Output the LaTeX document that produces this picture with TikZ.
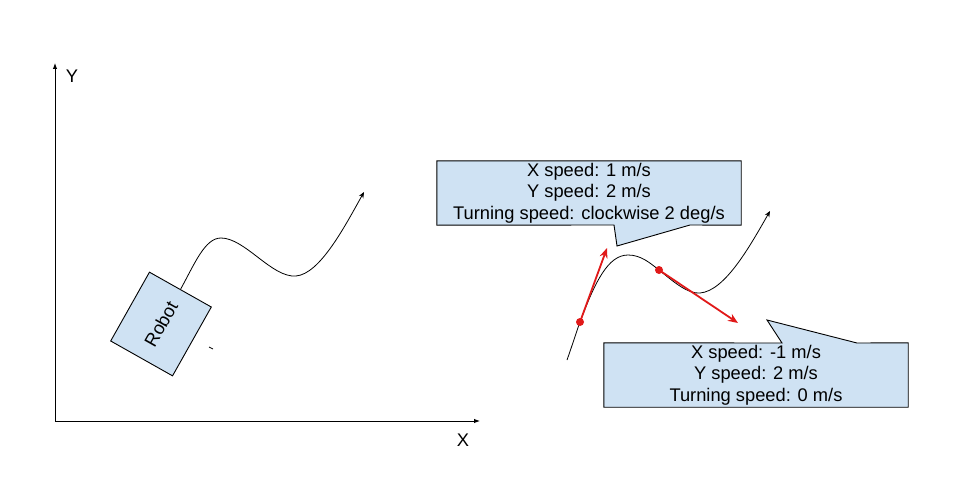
\documentclass[tikz,border=0pt]{standalone}
\usepackage{fontspec}
\setmainfont{Liberation Sans}
\usetikzlibrary{arrows.meta}
\definecolor{boxblue}{HTML}{CFE2F3}
\definecolor{vred}{RGB}{225,25,25}
\tikzset{
  txt/.style={font=\fontsize{18.3}{21.5}\selectfont, inner sep=0pt, align=center},
  thin line/.style={draw=black, line width=0.9pt},
  callout/.style={fill=boxblue, draw=black, line width=0.9pt, line join=miter},
  axis/.style={draw=black, line width=1pt, -{Latex[length=6pt,width=4.5pt]}},
  path arrow/.style={draw=black, line width=0.8pt, -{Stealth[length=6pt,width=5pt]}},
  vel/.style={draw=vred, line width=1.8pt, -{Stealth[length=10pt,width=8pt]}},
  dot/.style={circle, fill=vred, inner sep=0pt, minimum size=8pt}
}
\begin{document}
\begin{tikzpicture}[x=1pt, y=-1pt]
\useasboundingbox (0,0) rectangle (960,476);
\fill[white] (0,0) rectangle (960,476);

% axes
\coordinate (O) at (55,421);
\coordinate (ytop) at (55,63);
\coordinate (xend) at (480,421);
\draw[axis] (O) -- (ytop);
\draw[axis] (O) -- (xend);
\node[txt] (ylab) at (72,76) {Y};
\node[txt] (xlab) at (463,440) {X};

% robot
\node[txt, draw=black, line width=0.9pt, fill=boxblue, rotate=60.6,
      minimum width=79pt, minimum height=71pt] (robot) at (161,324) {Robot};
\coordinate (m1) at (209,347);
\coordinate (m2) at (213,349);
\draw[line width=0.8pt] (m1) -- (m2);

% left path
\coordinate (lp) at (221,238);
\coordinate (lt) at (296,276);
\coordinate (lend) at (364,192);
\draw[path arrow] (robot.east) .. controls (195,263) and (205,238) .. (lp)
  .. controls (245,238) and (272,278) .. (lt)
  .. controls (320,274) and (345,226) .. (lend);

% right path
\coordinate (rs) at (567,360);
\coordinate (d1) at (580,322);
\coordinate (rp) at (628,255);
\coordinate (d2) at (659,270);
\coordinate (rt) at (700,293);
\coordinate (rend) at (770,211);
\draw[path arrow] (rs) .. controls (572,346) and (576,333) .. (d1)
  .. controls (595,282) and (608,255) .. (rp)
  .. controls (641,255) and (650,263) .. (d2)
  .. controls (675,283) and (688,294) .. (rt)
  .. controls (725,291) and (750,246) .. (rend);

% velocity arrows
\coordinate (v1) at (607,248);
\coordinate (v2) at (738,323);
\draw[vel] (d1) -- (v1);
\draw[vel] (d2) -- (v2);
\node[dot] (dot1) at (d1) {};
\node[dot] (dot2) at (d2) {};

% callout 1
\node[txt, minimum width=304pt, minimum height=64pt] (c1) at (589,193) {};
\coordinate (c1tip) at (617,246);
\draw[callout] (c1.north west) -- (c1.north east) -- (c1.south east)
  -- (690,225) -- (c1tip) -- (614,225) -- (c1.south west) -- cycle;
\node[txt] (c1text) at (c1) {X speed: 1 m/s\\Y speed: 2 m/s\\Turning speed: clockwise 2 deg/s};

% callout 2
\node[txt, minimum width=304pt, minimum height=64pt] (c2) at (756,375) {};
\coordinate (c2tip) at (767,320);
\draw[callout] (c2.south west) -- (c2.north west) -- (782,343) -- (c2tip)
  -- (857,343) -- (c2.north east) -- (c2.south east) -- cycle;
\node[txt] (c2text) at (c2) {X speed: -1 m/s\\Y speed: 2 m/s\\Turning speed: 0 m/s};
\end{tikzpicture}
\end{document}
